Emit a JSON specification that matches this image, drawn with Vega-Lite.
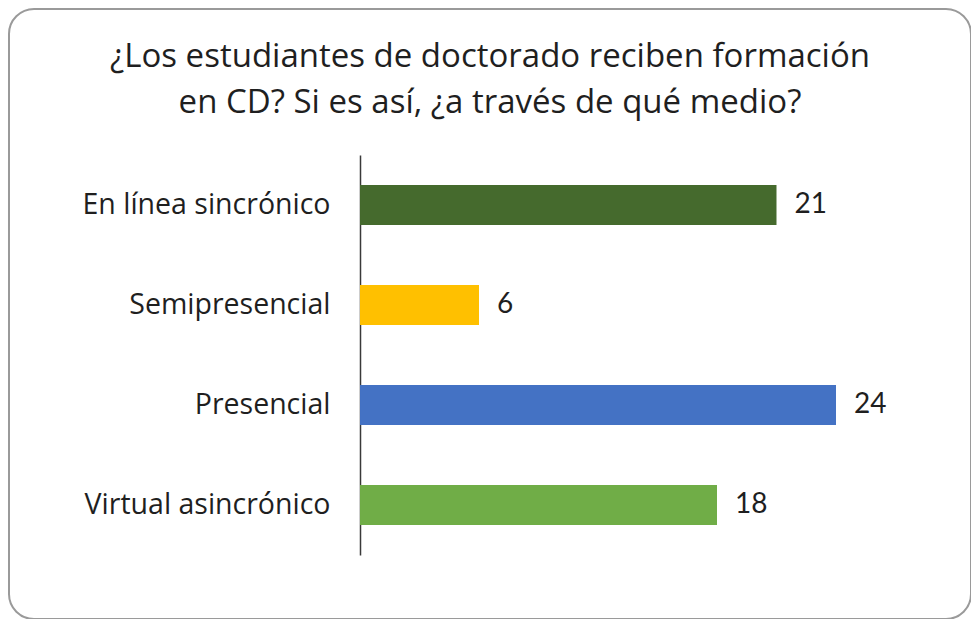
{
  "$schema": "https://vega.github.io/schema/vega-lite/v6.json",
  "width": 962,
  "height": 610,
  "autosize": {"type": "none"},
  "padding": {"left": 9, "top": 9, "right": 0, "bottom": 0},
  "background": "white",
  "view": {"stroke": "#9a9a9a", "strokeWidth": 2, "cornerRadius": 25, "fill": "white"},
  "title": {
    "text": ["¿Los estudiantes de doctorado reciben formación", "en CD? Si es así, ¿a través de qué medio?"],
    "font": "Open Sans",
    "fontSize": 33,
    "fontWeight": "normal",
    "color": "#1f1f1f",
    "lineHeight": 46.5,
    "anchor": "middle",
    "frame": "group",
    "offset": -111
  },
  "data": {
    "values": [
      {"medio": "En línea sincrónico", "n": 21},
      {"medio": "Semipresencial", "n": 6},
      {"medio": "Presencial", "n": 24},
      {"medio": "Virtual asincrónico", "n": 18}
    ]
  },
  "encoding": {
    "y": {
      "field": "medio",
      "type": "nominal",
      "sort": null,
      "scale": {
        "domain": ["En línea sincrónico", "Semipresencial", "Presencial", "Virtual asincrónico"],
        "range": [146, 546],
        "paddingInner": 0.6,
        "paddingOuter": 0.3
      },
      "axis": {
        "title": null,
        "domain": true,
        "domainColor": "#3a3a3a",
        "domainWidth": 1.5,
        "ticks": false,
        "grid": false,
        "labelFont": "Open Sans",
        "labelFontSize": 28.5,
        "labelColor": "#1f1f1f",
        "labelPadding": 30,
        "labelLimit": 400,
        "offset": -351
      }
    }
  },
  "layer": [
    {
      "mark": {"type": "bar"},
      "encoding": {
        "x": {
          "field": "n",
          "type": "quantitative",
          "scale": {"domain": [-17.698, 30.807], "nice": false, "zero": false},
          "axis": null
        },
        "x2": {"datum": 0},
        "color": {
          "field": "medio",
          "type": "nominal",
          "scale": {
            "domain": ["En línea sincrónico", "Semipresencial", "Presencial", "Virtual asincrónico"],
            "range": ["#456A2D", "#FFC000", "#4472C4", "#70AD47"]
          },
          "legend": null
        }
      }
    },
    {
      "mark": {"type": "text", "align": "left", "baseline": "middle", "dx": 18, "font": "Lato", "fontSize": 28, "color": "#1f1f1f"},
      "encoding": {
        "x": {"field": "n", "type": "quantitative"},
        "text": {"field": "n", "type": "quantitative"}
      }
    }
  ]
}
